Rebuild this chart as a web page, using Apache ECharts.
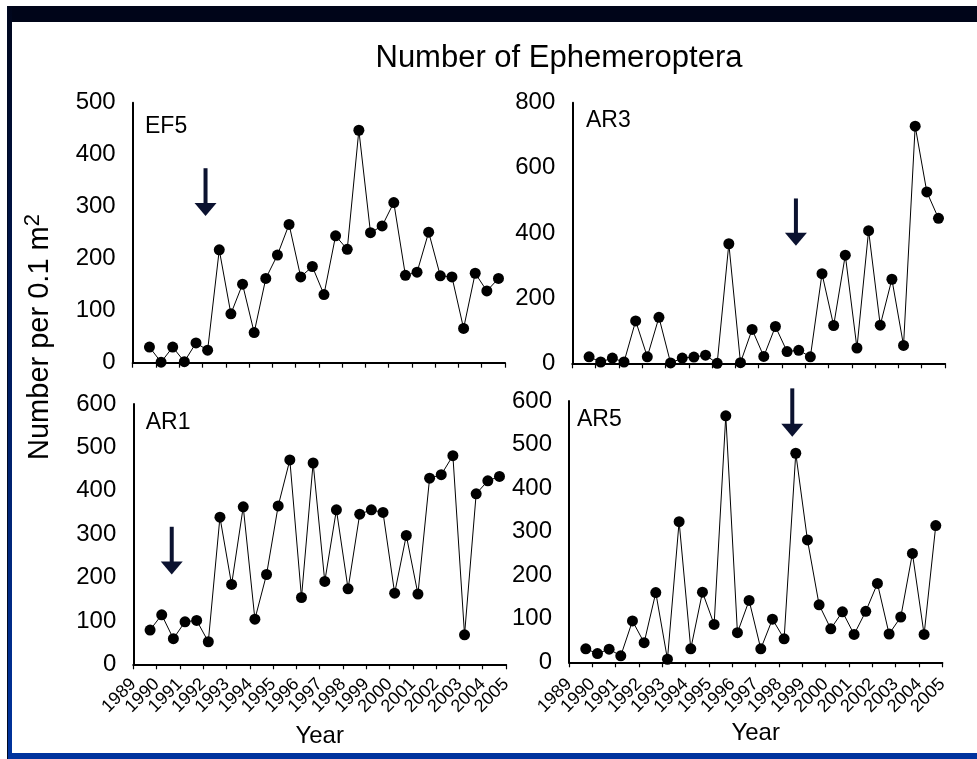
<!DOCTYPE html>
<html>
<head>
<meta charset="utf-8">
<title>Number of Ephemeroptera</title>
<script src="https://cdn.jsdelivr.net/npm/echarts@6/dist/echarts.min.js"></script>
<style>
  html, body { margin: 0; padding: 0; background: #ffffff; }
  #chart { width: 977px; height: 759px; }
</style>
</head>
<body>
<div id="chart"></div>
<script>
// Sampling dates (decimal years, spring and autumn surveys)
const sampleTimes = [
  1989.72, 1990.22, 1990.72, 1991.22, 1991.72, 1992.22, 1992.72, 1993.22,
  1993.72, 1994.22, 1994.72, 1995.22, 1995.72, 1996.22, 1996.72, 1997.22,
  1997.72, 1998.22, 1998.72, 1999.22, 1999.72, 2000.22, 2000.72, 2001.22,
  2001.72, 2002.22, 2002.72, 2003.22, 2003.72, 2004.22, 2004.72
];

// Counts per 0.1 m2 at each site
const ef5 = [30, 1, 30, 2, 38, 24, 217, 94, 151, 58, 162, 207, 266, 165, 185, 131,
             244, 218, 447, 250, 263, 308, 168, 174, 251, 167, 165, 66, 172, 138, 162];
const ar3 = [20, 4, 16, 4, 130, 20, 141, 1, 16, 19, 25, 0, 367, 2, 104, 21,
             113, 36, 40, 20, 275, 116, 332, 47, 407, 117, 258, 55, 728, 526, 445];
const ar1 = [79, 114, 59, 98, 101, 52, 339, 184, 363, 104, 207, 365, 471, 154, 464, 191,
             356, 174, 346, 356, 350, 164, 297, 162, 429, 437, 481, 68, 393, 423, 433];
const ar5 = [31, 20, 30, 15, 95, 45, 160, 7, 323, 31, 161, 87, 566, 68, 142, 31,
             99, 54, 480, 281, 132, 77, 116, 64, 117, 181, 65, 104, 250, 64, 314];

// Year tick labels along the bottom axes
const yearLabels = ['1989', '1990', '1991', '1992', '1993', '1994', '1995', '1996', '1997',
                    '1998', '1999', '2000', '2001', '2002', '2003', '2004', '2005'];

// Panel names and y-axis ranges
const panelNames = ['EF5', 'AR3', 'AR1', 'AR5'];
const panelSeries = [ef5, ar3, ar1, ar5];
const yMax = [500, 800, 600, 600];
const yStep = [100, 200, 100, 100];

// Year range of the shared time axis
const yearMin = 1989;
const yearMax = 2005;

// Down arrows: [year, value at shaft top, value at arrow tip]
const arrowMarks = [
  [1992.13, 374, 282],
  [1998.6, 506, 361],
  [1990.65, 317, 207],
  [1998.57, 629, 518]
];

const FONT = '"Liberation Sans", Arial, sans-serif';
const INK = '#000000';

const grids = [
  { left: 132.7, top: 102.7, width: 372.3, height: 260 },
  { left: 572.3, top: 102.7, width: 372.7, height: 260.6 },
  { left: 133.3, top: 404,   width: 372.7, height: 260.3 },
  { left: 569,   top: 401,   width: 373.3, height: 261.3 }
];

// Time axes carrying the data, line and ticks
const xAxes = grids.map((g, i) => ({
  type: 'value',
  gridIndex: i,
  position: 'bottom',
  min: yearMin,
  max: yearMax,
  interval: 1,
  splitLine: { show: false },
  axisLine: { lineStyle: { color: INK, width: 2 } },
  axisTick: { show: true, inside: false, length: 5, lineStyle: { color: INK, width: 1.2 } },
  axisLabel: { show: false }
}));

// Label-only year axes for the two bottom panels
[2, 3].forEach(i => {
  xAxes.push({
    type: 'category',
    gridIndex: i,
    position: 'bottom',
    offset: 0,
    data: yearLabels,
    boundaryGap: false,
    axisLine: { show: false },
    axisTick: { show: false },
    splitLine: { show: false },
    axisLabel: {
      interval: 0,
      rotate: 45,
      margin: i === 2 ? 17 : 19,
      fontFamily: FONT,
      fontSize: 18,
      color: INK
    },
    name: 'Year',
    nameLocation: 'middle',
    nameGap: i === 2 ? 60 : 59,
    nameTextStyle: { fontFamily: FONT, fontSize: 24, color: INK }
  });
});

const yAxes = grids.map((g, i) => ({
  type: 'value',
  gridIndex: i,
  min: 0,
  max: yMax[i],
  interval: yStep[i],
  splitLine: { show: false },
  axisLine: { show: true, lineStyle: { color: INK, width: 2 } },
  axisTick: { show: false },
  axisLabel: { margin: 17, fontFamily: FONT, fontSize: 24, color: INK }
}));

const lineSeries = panelSeries.map((vals, i) => ({
  type: 'line',
  xAxisIndex: i,
  yAxisIndex: i,
  data: sampleTimes.map((t, k) => [t, vals[k]]),
  symbol: 'circle',
  symbolSize: 11,
  itemStyle: { color: INK },
  lineStyle: { color: INK, width: 1 },
  animation: false,
  clip: false
}));

// Arrow drawn from data coordinates: shaft plus triangular head
function renderArrow(params, api) {
  const top = api.coord([api.value(0), api.value(1)]);
  const tip = api.coord([api.value(0), api.value(2)]);
  const headH = 13, headW = 22, shaftW = 4;
  const color = '#0b1230';
  return {
    type: 'group',
    children: [
      { type: 'rect', shape: { x: top[0] - shaftW / 2, y: top[1], width: shaftW, height: tip[1] - headH - top[1] + 1 },
        style: { fill: color } },
      { type: 'polygon', shape: { points: [[tip[0] - headW / 2, tip[1] - headH], [tip[0] + headW / 2, tip[1] - headH], [tip[0], tip[1]]] },
        style: { fill: color } }
    ]
  };
}

const arrowSeries = arrowMarks.map((a, i) => ({
  type: 'custom',
  xAxisIndex: i,
  yAxisIndex: i,
  data: [a],
  renderItem: renderArrow,
  clip: false,
  silent: true,
  animation: false
}));

// Panel labels placed at fixed spots inside each plot
const labelSpots = [[145, 127], [586, 121], [145.7, 423], [577, 419.5]];
const panelLabelGraphics = panelNames.map((name, i) => ({
  type: 'text',
  x: labelSpots[i][0],
  y: labelSpots[i][1],
  style: { text: name, font: '23px ' + FONT, fill: INK, align: 'left', verticalAlign: 'middle' }
}));

const frameGraphics = [
  { type: 'rect', shape: { x: 7, y: 6, width: 970, height: 16 }, style: { fill: '#000519' } },
  { type: 'rect', shape: { x: 7, y: 753, width: 970, height: 6 }, style: { fill: '#00339e' } },
  { type: 'rect', shape: { x: 7, y: 6, width: 5, height: 753 },
    style: { fill: new echarts.graphic.LinearGradient(0, 0, 0, 1, [
      { offset: 0, color: '#00061c' }, { offset: 0.45, color: '#001a5a' }, { offset: 1, color: '#00339e' }
    ]) } },
  { type: 'rect', shape: { x: 7, y: 6, width: 1, height: 753 }, style: { fill: '#000a24' } }
];

const chart = echarts.init(document.getElementById('chart'), null, { renderer: 'canvas' });
chart.setOption({
  animation: false,
  backgroundColor: '#ffffff',
  title: {
    text: 'Number of Ephemeroptera',
    left: 554,
    top: 38,
    textAlign: 'center',
    textStyle: { fontFamily: FONT, fontSize: 31, fontWeight: 'normal', color: INK }
  },
  grid: grids,
  xAxis: xAxes,
  yAxis: yAxes,
  series: lineSeries.concat(arrowSeries),
  graphic: frameGraphics.concat(panelLabelGraphics).concat([
    {
      type: 'text',
      x: 40,
      y: 337,
      rotation: Math.PI / 2,
      style: {
        text: '{b|Number per 0.1 m}{s|2}',
        align: 'center',
        verticalAlign: 'middle',
        rich: {
          b: { fontFamily: FONT, fontSize: 29, fill: INK, color: INK },
          s: { fontFamily: FONT, fontSize: 22, fill: INK, color: INK, verticalAlign: 'top', padding: [0, 0, 14, 0] }
        }
      }
    }
  ])
});
</script>
</body>
</html>
